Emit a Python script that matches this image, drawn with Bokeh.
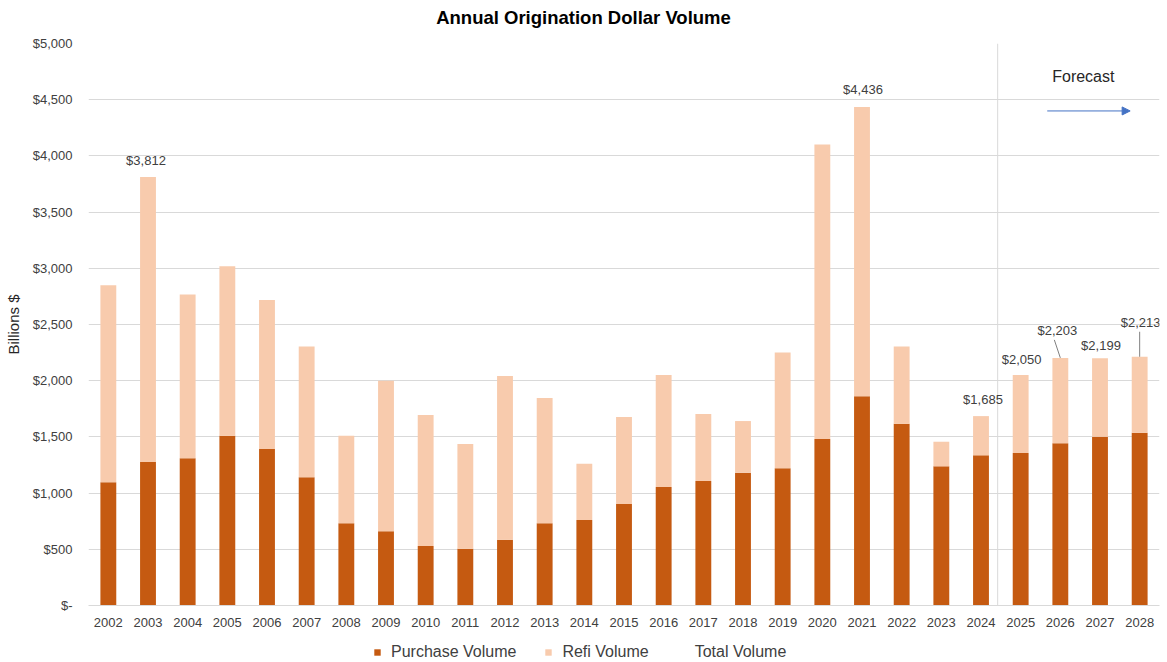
from bokeh.plotting import figure
from bokeh.layouts import column
from bokeh.models import (Range1d, FixedTicker, Label, LabelSet, Span, Arrow,
                          NormalHead, Legend, LegendItem, ColumnDataSource)
from bokeh.core.properties import value
from bokeh.embed import file_html
from bokeh.resources import INLINE

# ---------------- data ----------------
years = [2002, 2003, 2004, 2005, 2006, 2007, 2008, 2009, 2010, 2011, 2012, 2013, 2014,
         2015, 2016, 2017, 2018, 2019, 2020, 2021, 2022, 2023, 2024, 2025, 2026, 2027, 2028]
purchase = [1096, 1277, 1310, 1511, 1392, 1140, 731, 660, 529, 506, 586, 731, 761,
            903, 1054, 1108, 1182, 1221, 1481, 1861, 1617, 1238, 1336, 1357, 1443, 1502, 1537]
refi = [1754, 2535, 1457, 1508, 1327, 1165, 780, 1340, 1166, 931, 1456, 1115, 501,
        774, 997, 596, 459, 1031, 2621, 2575, 688, 219, 349, 693, 760, 697, 676]
total = [2850, 3812, 2767, 3019, 2719, 2305, 1511, 2000, 1695, 1437, 2042, 1846, 1262,
         1677, 2051, 1704, 1641, 2252, 4102, 4436, 2305, 1457, 1685, 2050, 2203, 2199, 2213]
labelled_years = [2003, 2021, 2024, 2025, 2026, 2027, 2028]
y_ticks = [0, 500, 1000, 1500, 2000, 2500, 3000, 3500, 4000, 4500, 5000]
y_tick_labels = ["$-", "$500", "$1,000", "$1,500", "$2,000", "$2,500", "$3,000",
                 "$3,500", "$4,000", "$4,500", "$5,000"]
series_names = ["Purchase Volume", "Refi Volume", "Total Volume"]
title_text = "Annual Origination Dollar Volume"
forecast_text = "Forecast"
y_axis_title = "Billions $"
forecast_start = 2024.42

# ---------------- style ----------------
FONT = "Liberation Sans"
C_PURCHASE = "#C55A11"
C_REFI = "#F8CBAD"
C_GRID = "#D9D9D9"
C_TEXT = "#404040"
PX_X = 39.65     # px per year
PX_Y = 0.1124    # px per $bn
label_offsets = {2003: (-2, 17), 2021: (1, 17), 2024: (2, 17), 2025: (1, 16),
                 2026: (-3, 27), 2027: (1, 13), 2028: (1, 34)}
leaders = {2026: (-6, 18), 2028: (0, 25)}


def strip(height):
    f = figure(width=1167, height=height, output_backend="svg", toolbar_location=None,
               x_range=Range1d(0, 1), y_range=Range1d(0, 1),
               min_border_left=88, min_border_right=8, min_border_top=0, min_border_bottom=0)
    f.axis.visible = False
    f.grid.visible = False
    f.outline_line_color = None
    f.border_fill_color = "white"
    return f


# ---------------- title strip ----------------
tf = strip(28)
tf.add_layout(Label(x=0.4622, y=11 / 28, text=title_text, text_align="center",
                    text_baseline="middle", text_font=FONT, text_font_size="18.5px",
                    text_font_style="bold", text_color="black"))

# ---------------- main chart ----------------
p = figure(width=1167, height=604, output_backend="svg", toolbar_location=None,
           x_range=Range1d(2001.5, 2028.5), y_range=Range1d(0, 5000),
           min_border_left=88, min_border_right=8, min_border_top=15, min_border_bottom=27)
p.outline_line_color = None
p.background_fill_color = "white"
p.border_fill_color = "white"

src = ColumnDataSource(dict(year=years, purchase=purchase, refi=refi, total=total))
rs = p.vbar_stack(["purchase", "refi"], x="year", width=0.4, source=src,
                  color=[C_PURCHASE, C_REFI], line_color=None)
p.line(x="year", y="total", source=src, line_alpha=0)

p.xgrid.grid_line_color = None
p.ygrid.grid_line_color = C_GRID
p.ygrid.grid_line_width = 1
p.yaxis.ticker = FixedTicker(ticks=y_ticks)
p.yaxis.major_label_overrides = {t: s for t, s in zip(y_ticks, y_tick_labels)}
p.xaxis.ticker = FixedTicker(ticks=years)
for ax in (p.xaxis[0], p.yaxis[0]):
    ax.major_tick_line_color = None
    ax.minor_tick_line_color = None
    ax.major_label_text_font = FONT
    ax.major_label_text_font_size = "13px"
    ax.major_label_text_color = C_TEXT
p.yaxis.axis_line_color = None
p.xaxis.axis_line_color = C_GRID
p.yaxis.major_label_standoff = 10
p.xaxis.major_label_standoff = 6
p.yaxis.axis_label = y_axis_title
p.yaxis.axis_label_text_font = FONT
p.yaxis.axis_label_text_font_style = "normal"
p.yaxis.axis_label_text_font_size = "15px"
p.yaxis.axis_label_text_color = "#262626"
p.yaxis.axis_label_standoff = 8

p.add_layout(Span(location=forecast_start, dimension="height", line_color=C_GRID, line_width=1))

lx, ly, lt, lxo, lyo = [], [], [], [], []
for yr in labelled_years:
    i = years.index(yr)
    lx.append(yr)
    ly.append(total[i])
    lt.append("${:,}".format(total[i]))
    lxo.append(label_offsets[yr][0])
    lyo.append(label_offsets[yr][1])
lsrc = ColumnDataSource(dict(x=lx, y=ly, text=lt, xo=lxo, yo=lyo))
p.add_layout(LabelSet(x="x", y="y", text="text", x_offset="xo", y_offset="yo", source=lsrc,
                      text_align="center", text_baseline="middle", text_font=value(FONT),
                      text_font_size="13px", text_color=C_TEXT))

sx0, sy0, sx1, sy1 = [], [], [], []
for yr, (dx, dy) in leaders.items():
    i = years.index(yr)
    sx0.append(yr)
    sy0.append(total[i])
    sx1.append(yr + dx / PX_X)
    sy1.append(total[i] + dy / PX_Y)
p.segment(x0=sx0, y0=sy0, x1=sx1, y1=sy1, line_color="#808080", line_width=1)

p.add_layout(Label(x=2026.58, y=4702, text=forecast_text, text_align="center",
                   text_baseline="middle", text_font=FONT, text_font_size="16px",
                   text_color="#262626"))
p.add_layout(Arrow(x_start=2025.67, y_start=4400, x_end=2027.76, y_end=4400,
                   line_color="#4472C4", line_width=1,
                   end=NormalHead(size=8, fill_color="#4472C4", line_color="#4472C4")))

# ---------------- legend strip ----------------
lg = strip(30)
lg_p = lg.vbar(x=[0.5], top=[0], width=0.01, color=C_PURCHASE, line_color=None)
lg_r = lg.vbar(x=[0.5], top=[0], width=0.01, color=C_REFI, line_color=None)
lg_t = lg.line(x=[0.4, 0.6], y=[0.5, 0.5], line_alpha=0)
legend = Legend(items=[LegendItem(label=series_names[0], renderers=[lg_p]),
                       LegendItem(label=series_names[1], renderers=[lg_r]),
                       LegendItem(label=series_names[2], renderers=[lg_t])],
                orientation="horizontal", location=(373 - 88, 1),
                glyph_width=8, glyph_height=8, label_standoff=10, spacing=28,
                padding=0, margin=0, border_line_color=None, background_fill_alpha=0,
                label_text_font=FONT, label_text_font_size="16px", label_text_color=C_TEXT)
lg.add_layout(legend, "center")

layout = column(tf, p, lg, spacing=0)
open("out.html", "w").write(file_html(layout, INLINE))
